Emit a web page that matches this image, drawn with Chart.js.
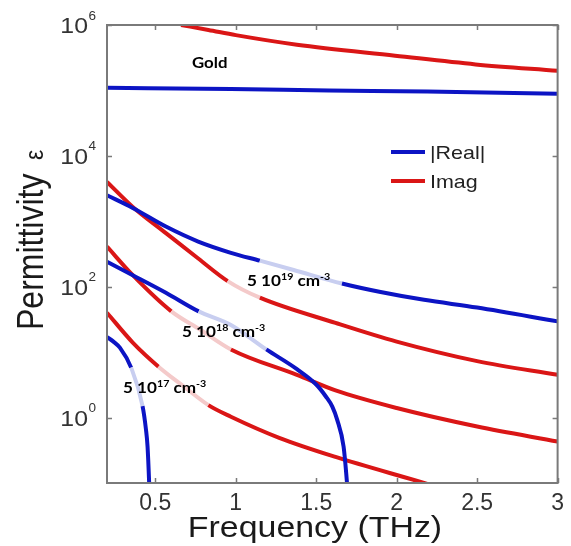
<!DOCTYPE html>
<html>
<head>
<meta charset="utf-8">
<title>Permittivity vs Frequency</title>
<script src="https://cdn.jsdelivr.net/npm/chart.js@4.4.1/dist/chart.umd.min.js"></script>
<style>
html,body{margin:0;padding:0;background:#ffffff;overflow:hidden;}
canvas{display:block;}
</style>
</head>
<body>
<canvas id="chart" width="571" height="546"></canvas>
<script>
// ---------------- data ----------------
const xTickValues = [0.5, 1, 1.5, 2, 2.5, 3];
const yTickValues = [1, 100, 1e4, 1e6];
const yTickExponents = ['0', '2', '4', '6'];
const seriesNames = ['|Real|', 'Imag'];
const goldLabel = 'Gold';
const dopingExponents = ['19', '18', '17'];

const goldRealFreq = [0.2, 0.97, 1.58, 2.19, 3.0];
const goldRealVals = [1.10e5, 1.05e5, 1.00e5, 9.6e4, 8.9e4];
const goldImagFreq = [0.66, 0.83, 1.0, 1.38, 1.99, 2.49, 3.0];
const goldImagVals = [1.0e6, 8.4e5, 7.0e5, 5.0e5, 3.4e5, 2.5e5, 2.0e5];

const n19RealFreq = [0.2, 0.36, 0.566, 0.767, 0.97, 1.15, 1.36, 1.66, 1.9, 2.17, 2.5, 3.0];
const n19RealVals = [2500, 1600, 830, 490, 330, 250, 180, 112, 83, 63, 48, 29.5];
const n19ImagFreq = [0.2, 0.36, 0.566, 0.767, 0.95, 1.15, 1.62, 2.0, 2.5, 3.0];
const n19ImagVals = [4000, 1660, 660, 270, 122, 68, 28, 14.5, 7.3, 4.5];

const n18RealFreq = [0.2, 0.36, 0.566, 0.77, 0.97, 1.19, 1.38, 1.5, 1.56, 1.6, 1.63, 1.67, 1.69, 1.70];
const n18RealVals = [240, 150, 81, 42, 26, 11, 5.5, 3.2, 2.1, 1.47, 0.93, 0.36, 0.11, 0.05];
const n18ImagFreq = [0.2, 0.36, 0.6, 0.78, 0.97, 1.38, 1.62, 2.0, 2.5, 3.0];
const n18ImagVals = [410, 150, 42, 22, 11, 4.5, 2.6, 1.4, 0.73, 0.43];

const n17RealFreq = [0.2, 0.24, 0.28, 0.35, 0.421, 0.442, 0.452, 0.462, 0.466];
const n17RealVals = [17, 14.5, 11.7, 5.8, 1.5, 0.66, 0.36, 0.1, 0.05];
const n17ImagFreq = [0.2, 0.36, 0.52, 0.676, 0.83, 0.97, 1.27, 1.62, 2.17, 2.3];
const n17ImagVals = [40, 14, 6.0, 3.0, 1.55, 1.03, 0.49, 0.25, 0.10, 0.08];

// ---------------- styles ----------------
const BLUE = 'rgb(12,20,196)';
const RED = 'rgb(218,22,22)';
const LIGHT_BLUE = 'rgb(200,206,240)';
const LIGHT_RED = 'rgb(244,202,202)';
const SX = 1.13; // horizontal text stretch of the original picture

function pts(fs, vs) { return fs.map((f, i) => ({x: f, y: vs[i]})); }

function makeSet(fs, vs, color, light, fade) {
  const ds = {
    data: pts(fs, vs),
    borderColor: color,
    borderWidth: 4,
    pointRadius: 0,
    fill: false,
    cubicInterpolationMode: 'monotone',
    borderJoinStyle: 'round',
    clip: 0
  };
  if (fade) {
    ds.segment = {
      borderColor: ctx => (ctx.p0.parsed.x >= fade[0] - 1e-9 && ctx.p1.parsed.x <= fade[1] + 1e-9) ? light : undefined
    };
  }
  return ds;
}

const datasets = [
  makeSet(goldRealFreq, goldRealVals, BLUE, LIGHT_BLUE, null),
  makeSet(goldImagFreq, goldImagVals, RED, LIGHT_RED, null),
  makeSet(n19RealFreq, n19RealVals, BLUE, LIGHT_BLUE, [1.15, 1.66]),
  makeSet(n19ImagFreq, n19ImagVals, RED, LIGHT_RED, [0.95, 1.15]),
  makeSet(n18RealFreq, n18RealVals, BLUE, LIGHT_BLUE, [0.77, 1.19]),
  makeSet(n18ImagFreq, n18ImagVals, RED, LIGHT_RED, [0.6, 0.97]),
  makeSet(n17RealFreq, n17RealVals, BLUE, LIGHT_BLUE, [0.35, 0.421]),
  makeSet(n17ImagFreq, n17ImagVals, RED, LIGHT_RED, [0.52, 0.83])
];

function drawRuns(ctx, x, y, runs, sx, color) {
  ctx.save();
  ctx.translate(x, y);
  ctx.scale(sx, 1);
  ctx.fillStyle = color;
  ctx.textAlign = 'left';
  ctx.textBaseline = 'alphabetic';
  let cx = 0;
  for (const r of runs) {
    ctx.font = r.font;
    ctx.fillText(r.text, cx, r.dy || 0);
    cx += ctx.measureText(r.text).width;
  }
  ctx.restore();
}

function runsWidth(ctx, runs) {
  let w = 0;
  ctx.save();
  for (const r of runs) { ctx.font = r.font; w += ctx.measureText(r.text).width; }
  ctx.restore();
  return w;
}

const decor = {
  id: 'decor',
  afterDatasetsDraw(chart) {
    const ctx = chart.ctx;
    const a = chart.chartArea;
    const xs = chart.scales.x, ys = chart.scales.y;

    // box + inward ticks
    ctx.save();
    ctx.strokeStyle = '#7a7a7a';
    ctx.lineWidth = 2;
    ctx.strokeRect(a.left, a.top, a.right - a.left, a.bottom - a.top);
    ctx.lineWidth = 1.5;
    ctx.beginPath();
    const TL = 5;
    for (const v of xTickValues) {
      const px = Math.round(xs.getPixelForValue(v)) + 0.5;
      ctx.moveTo(px, a.bottom); ctx.lineTo(px, a.bottom - TL);
      ctx.moveTo(px, a.top); ctx.lineTo(px, a.top + TL);
    }
    for (const v of yTickValues) {
      const py = Math.round(ys.getPixelForValue(v)) + 0.5;
      ctx.moveTo(a.left, py); ctx.lineTo(a.left + TL, py);
      ctx.moveTo(a.right, py); ctx.lineTo(a.right - TL, py);
    }
    ctx.stroke();
    ctx.restore();

    // y tick labels 10^n
    yTickValues.forEach((v, i) => {
      const py = ys.getPixelForValue(v);
      const base = [{text: '10', font: '22px "Liberation Sans", Arial, sans-serif'}];
      const w = runsWidth(ctx, base) * SX;
      drawRuns(ctx, 88 - w, py + 8, base, SX, '#333');
      drawRuns(ctx, 88.5, py - 5.5, [{text: yTickExponents[i], font: '12px "Liberation Sans", Arial, sans-serif'}], SX, '#333');
    });

    // axis titles
    const xt = [{text: 'Frequency (THz)', font: '30px "Liberation Sans", Arial, sans-serif'}];
    const xw = runsWidth(ctx, xt) * SX;
    drawRuns(ctx, 315 - xw / 2, 537, xt, SX, '#1a1a1a');

    ctx.save();
    ctx.translate(43, 330);
    ctx.rotate(-Math.PI / 2);
    ctx.scale(1, SX);
    ctx.fillStyle = '#1a1a1a';
    ctx.textBaseline = 'alphabetic';
    ctx.textAlign = 'left';
    ctx.font = '32px "Liberation Sans", Arial, sans-serif';
    ctx.fillText('Permittivity', 0, 0);
    ctx.font = '23px "Liberation Sans", "DejaVu Sans", sans-serif';
    ctx.fillText('\u03b5', 170, 0);
    ctx.restore();

    // legend
    const leg = [[BLUE, 152, 159], [RED, 181, 187.5]];
    leg.forEach((l, i) => {
      ctx.save();
      ctx.strokeStyle = l[0];
      ctx.lineWidth = 4;
      ctx.beginPath();
      ctx.moveTo(391, l[1]); ctx.lineTo(425, l[1]);
      ctx.stroke();
      ctx.restore();
      drawRuns(ctx, 430, l[2], [{text: seriesNames[i], font: '19px "Liberation Sans", Arial, sans-serif'}], SX, '#222');
    });

    // curve labels
    const BF = 'bold 16px Lato, "Open Sans", sans-serif';
    const SF = 'bold 10px Lato, "Open Sans", sans-serif';
    drawRuns(ctx, 192, 68, [{text: goldLabel, font: BF}], 1.05, '#000');
    const pos = [[247, 286], [182, 337], [123, 393]];
    dopingExponents.forEach((e, i) => {
      drawRuns(ctx, pos[i][0], pos[i][1], [
        {text: '5 10', font: BF},
        {text: e, font: SF, dy: -6},
        {text: ' cm', font: BF},
        {text: '-3', font: SF, dy: -6}
      ], 1.07, '#000');
    });
  }
};

new Chart(document.getElementById('chart'), {
  type: 'line',
  data: {datasets},
  options: {
    responsive: false,
    animation: false,
    events: [],
    layout: {padding: {left: 0, right: 7, top: 25, bottom: 0}},
    plugins: {legend: {display: false}, tooltip: {enabled: false}},
    scales: {
      x: {
        type: 'linear', min: 0.2, max: 3,
        afterBuildTicks: s => { s.ticks = xTickValues.map(v => ({value: v})); },
        afterFit: s => { s.height = 63; },
        grid: {display: false, drawTicks: false},
        border: {display: false},
        ticks: {
          autoSkip: false, maxRotation: 0, padding: 7, color: '#333',
          font: {family: '"Liberation Sans", Arial, sans-serif', size: 23},
          callback: v => String(v)
        }
      },
      y: {
        type: 'logarithmic', min: 0.1, max: 1e6,
        afterBuildTicks: s => { s.ticks = yTickValues.map(v => ({value: v})); },
        afterFit: s => { s.width = 107; },
        grid: {display: false, drawTicks: false},
        border: {display: false},
        ticks: {display: false}
      }
    }
  },
  plugins: [decor]
});
</script>
</body>
</html>
